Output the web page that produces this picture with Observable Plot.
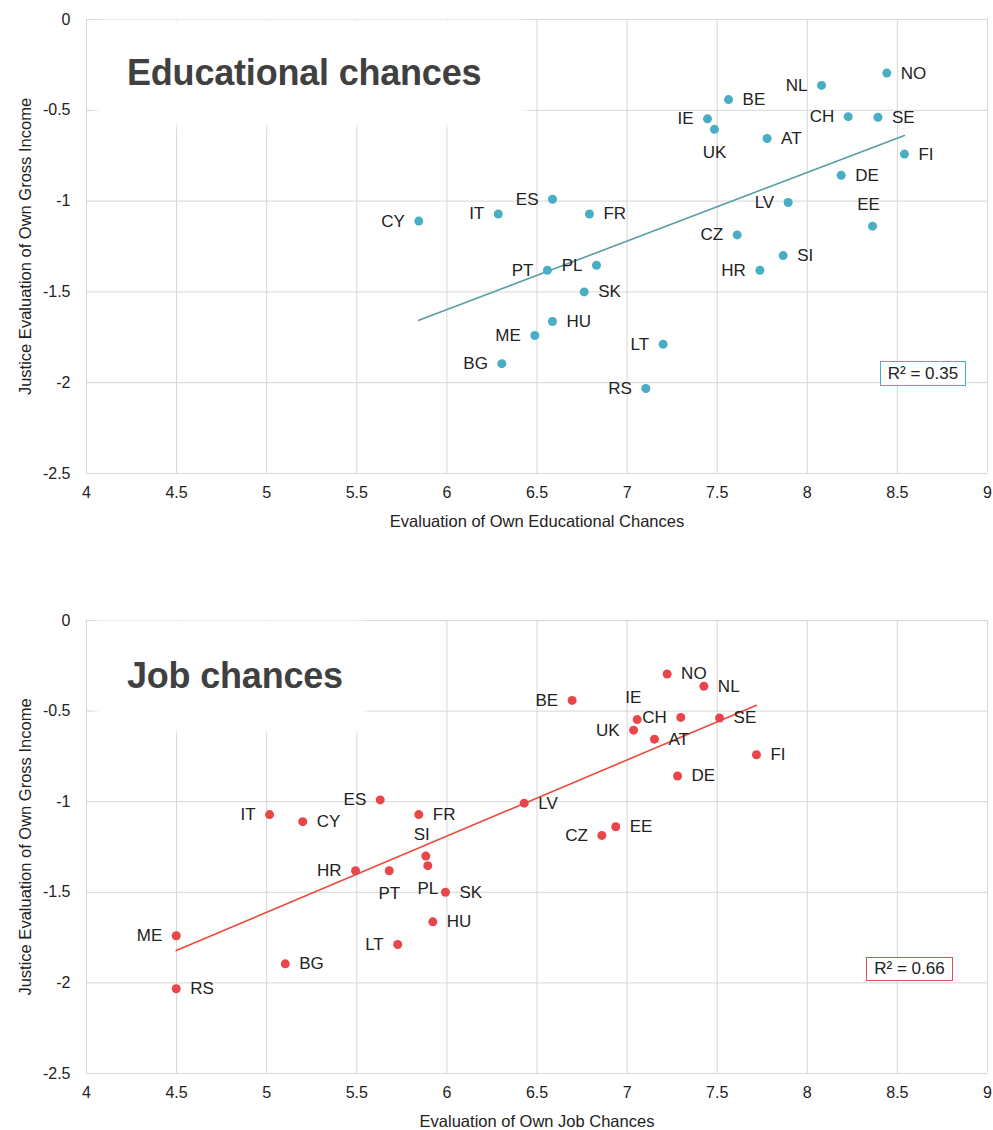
<!DOCTYPE html>
<html><head><meta charset="utf-8">
<script src="https://cdn.jsdelivr.net/npm/d3@7"></script>
<script src="https://cdn.jsdelivr.net/npm/@observablehq/plot@0.6"></script>
<style>
body{margin:0;background:#fff;font-family:"Liberation Sans",Arial,sans-serif;}
.panel{position:relative;width:993px;}
.panel svg{display:block;}
.title{position:absolute;background:#fff;color:#404040;font-weight:bold;font-size:36px;letter-spacing:-0.2px;box-sizing:border-box;padding-left:27px;display:flex;align-items:center;box-shadow:0 0 6px 4px #fff;}
.r2{position:absolute;background:#fff;font-size:17px;color:#222;box-sizing:border-box;display:flex;align-items:center;justify-content:center;white-space:nowrap;}
</style></head>
<body>
<div class="panel" id="p1"></div>
<div class="panel" id="p2"></div>
<script>
const countries = ["AT","BE","BG","CH","CY","CZ","DE","EE","ES","FI","FR","HR","HU","IE","IT","LT","LV","ME","NL","NO","PL","PT","RS","SE","SI","SK","UK"];
const justice = [-0.655,-0.441,-1.895,-0.535,-1.110,-1.186,-0.858,-1.138,-0.990,-0.741,-1.071,-1.381,-1.663,-0.547,-1.071,-1.788,-1.008,-1.740,-0.363,-0.295,-1.353,-1.381,-2.032,-0.538,-1.300,-1.500,-0.605];
const eduChances = [7.777,7.563,6.305,8.227,5.844,7.611,8.188,8.362,6.586,8.539,6.791,7.737,6.586,7.446,6.285,7.200,7.894,6.488,8.079,8.441,6.830,6.558,7.104,8.392,7.866,6.762,7.485];
const jobChances = [7.152,6.695,5.103,7.298,5.200,6.860,7.280,6.937,5.630,7.718,5.844,5.493,5.922,7.056,5.016,5.727,6.429,4.498,7.426,7.222,5.894,5.680,4.498,7.513,5.883,5.992,7.036];
const eduLabelSide = ["right","right","left","left","left","left","right","above","left","right","right","left","right","left","left","left","left","left","left","right","left","left","left","right","right","right","below"];
const jobLabelSide = ["right","left","right","left","right","left","right","right","left","right","right","left","right","above","left","left","right","left","right","right","below","below","right","right","above","right","left"];
const xTicks = [4,4.5,5,5.5,6,6.5,7,7.5,8,8.5,9];
const yTicks = [0,-0.5,-1,-1.5,-2,-2.5];
const yLabel = "Justice Evaluation of Own Gross Income";

function build(el, {xs, sides, xLabel, title, r2, dotColor, lineColor, boxColor, height, marginBottom, titleBox, r2Box}) {
  const data = countries.map((c,i) => ({c, x: xs[i], y: justice[i], side: sides[i]}));
  const lbl = {fontSize: 17, fill: "#222", lineAnchor: "middle", x: "x", y: "y", text: "c"};
  const chart = Plot.plot({
    width: 993, height, marginLeft: 86, marginRight: 6, marginTop: 19, marginBottom,
    style: {fontFamily: '"Liberation Sans", Arial, sans-serif', fontSize: "16px", color: "#222", background: "transparent"},
    x: {domain: [4,9], label: null},
    y: {domain: [-2.5,0], label: null},
    marks: [
      Plot.gridX(xTicks, {stroke: "#d6d6d6", strokeOpacity: 1}),
      Plot.gridY(yTicks, {stroke: "#d6d6d6", strokeOpacity: 1}),
      Plot.axisX({ticks: xTicks, tickFormat: d => String(d), tickSize: 0, tickPadding: 13, label: null}),
      Plot.axisY({ticks: yTicks, tickFormat: d => String(d), tickSize: 0, tickPadding: 16, label: null}),
      Plot.linearRegressionY(data, {x: "x", y: "y", stroke: lineColor, strokeWidth: 1.6, ci: 0}),
      Plot.dot(data, {x: "x", y: "y", r: 4.5, fill: dotColor, stroke: "none"}),
      Plot.text(data.filter(d => d.side === "right"), {...lbl, textAnchor: "start", dx: 14}),
      Plot.text(data.filter(d => d.side === "left"), {...lbl, textAnchor: "end", dx: -14}),
      Plot.text(data.filter(d => d.side === "above"), {...lbl, textAnchor: "middle", dx: -4, dy: -22}),
      Plot.text(data.filter(d => d.side === "below"), {...lbl, textAnchor: "middle", dy: 23}),
      Plot.text([yLabel], {frameAnchor: "left", text: d => d, rotate: -90, dx: -61, fontSize: 16.5, fill: "#222", lineAnchor: "middle", textAnchor: "middle"}),
      Plot.text([xLabel], {frameAnchor: "bottom", text: d => d, dy: 48, fontSize: 16.5, fill: "#222", lineAnchor: "middle", textAnchor: "middle"})
    ]
  });
  el.appendChild(chart);
  const t = document.createElement("div");
  t.className = "title"; t.textContent = title;
  Object.assign(t.style, titleBox);
  el.appendChild(t);
  const r = document.createElement("div");
  r.className = "r2"; r.textContent = r2;
  Object.assign(r.style, r2Box, {border: "1px solid " + boxColor});
  el.appendChild(r);
}

build(document.getElementById("p1"), {
  xs: eduChances, sides: eduLabelSide, xLabel: "Evaluation of Own Educational Chances",
  title: "Educational chances", r2: "R² = 0.35",
  dotColor: "#48aec4", lineColor: "#5a9fa3", boxColor: "#48aec4",
  height: 601, marginBottom: 128,
  titleBox: {left: "100px", top: "24px", width: "422px", height: "98px"},
  r2Box: {left: "880px", top: "361px", width: "86px", height: "25px"}
});
build(document.getElementById("p2"), {
  xs: jobChances, sides: jobLabelSide, xLabel: "Evaluation of Own Job Chances",
  title: "Job chances", r2: "R² = 0.66",
  dotColor: "#e8464a", lineColor: "#ee4a3c", boxColor: "#e05256",
  height: 529, marginBottom: 57,
  titleBox: {left: "100px", top: "23px", width: "262px", height: "104px"},
  r2Box: {left: "866px", top: "356px", width: "87px", height: "24px"}
});
</script>
</body></html>
